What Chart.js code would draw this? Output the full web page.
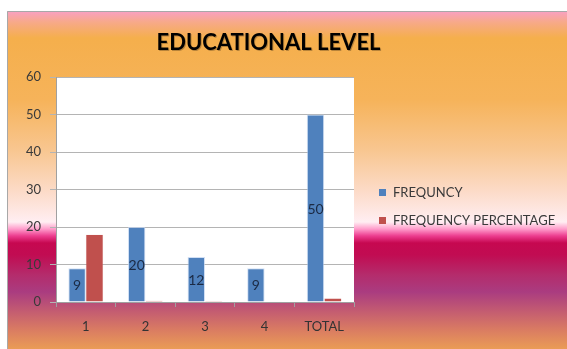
<!DOCTYPE html>
<html>
<head>
<meta charset="utf-8">
<script src="https://cdn.jsdelivr.net/npm/chart.js@4"></script>
<style>
html,body{margin:0;padding:0;background:#fff;}
#wrap{width:567px;height:349px;position:relative;}
</style>
</head>
<body>
<div id="wrap"><canvas id="c" width="567" height="349"></canvas></div>
<script>
const titleText = "EDUCATIONAL LEVEL";
const categories = ["1", "2", "3", "4", "TOTAL"];
const frequency = [9, 20, 12, 9, 50];
const frequencyPercentage = [18, 0.4, 0.24, 0.18, 1];
const seriesNames = ["FREQUNCY", "FREQUENCY PERCENTAGE"];
const yTicks = [0, 10, 20, 30, 40, 50, 60];

const FONT = "Lato, 'Open Sans', sans-serif";

const bgPlugin = {
  id: 'bg',
  beforeDraw(chart) {
    const ctx = chart.ctx;
    const W = chart.width, H = chart.height;
    ctx.save();
    ctx.fillStyle = '#ffffff';
    ctx.fillRect(0, 0, W, H);
    const x0 = 7, y0 = 11;
    const g = ctx.createLinearGradient(0, y0, 0, H);
    const stops = [
      [11, '#F9A0C4'], [22, '#F7A98A'], [38, '#F5AF4C'], [100, '#F6B35A'],
      [150, '#F8C690'], [190, '#FCDAC6'], [222, '#FFEEF2'], [229, '#FF9CCB'],
      [236, '#EC3C8E'], [243, '#C60850'], [255, '#C10C52'], [275, '#B42C6C'],
      [292, '#AA3C80'], [310, '#C25A72'], [330, '#DA7C62'], [349, '#EA9C56']
    ];
    stops.forEach(s => g.addColorStop((s[0] - y0) / (H - y0), s[1]));
    ctx.fillStyle = g;
    ctx.fillRect(x0, y0, W - x0, H - y0);
    ctx.strokeStyle = '#A8A8A8';
    ctx.lineWidth = 1;
    ctx.beginPath();
    ctx.moveTo(x0 + 0.5, H);
    ctx.lineTo(x0 + 0.5, y0 + 0.5);
    ctx.lineTo(W, y0 + 0.5);
    ctx.stroke();
    const a = chart.chartArea;
    ctx.fillStyle = '#ffffff';
    ctx.fillRect(a.left, a.top, a.right - a.left, a.bottom - a.top);
    ctx.restore();
  },
  afterDraw(chart) {
    const ctx = chart.ctx;
    ctx.save();
    ctx.font = "bold 22px " + FONT;
    ctx.fillStyle = 'rgba(0,0,0,0.25)';
    ctx.textAlign = 'center';
    ctx.textBaseline = 'middle';
    ctx.fillText(titleText, 269.5, 43.5);
    ctx.fillStyle = '#000000';
    ctx.fillText(titleText, 268.5, 42.5);
    const meta = chart.getDatasetMeta(0);
    ctx.font = "14px " + FONT;
    ctx.fillStyle = '#1B2A44';
    meta.data.forEach((bar, i) => {
      const y = (bar.y + bar.base) / 2;
      ctx.fillText(String(chart.data.datasets[0].data[i]), bar.x, y + 1);
    });
    ctx.font = "13px " + FONT;
    ctx.textAlign = 'left';
    chart.data.datasets.forEach((ds, i) => {
      const y = 192.5 + i * 28;
      ctx.fillStyle = ds.backgroundColor;
      ctx.fillRect(379, y - 3.5, 7, 7);
      ctx.fillStyle = '#3A3A3A';
      ctx.fillText(ds.label, 393, y + 0.5);
    });
    ctx.restore();
  }
};

new Chart(document.getElementById('c'), {
  type: 'bar',
  data: {
    labels: categories,
    datasets: [
      { label: seriesNames[0], data: frequency, backgroundColor: '#4F81BD',
        borderColor: 'rgba(190,210,240,0.7)', borderWidth: 1 },
      { label: seriesNames[1], data: frequencyPercentage, backgroundColor: '#C0504D',
        borderColor: 'rgba(230,170,170,0.4)', borderWidth: 0.5 }
    ]
  },
  options: {
    responsive: false,
    animation: false,
    devicePixelRatio: 1,
    layout: { padding: { left: 0, top: 77, right: 213, bottom: 0 } },
    datasets: { bar: { categoryPercentage: 0.584, barPercentage: 1 } },
    plugins: { legend: { display: false }, title: { display: false }, tooltip: { enabled: false } },
    scales: {
      x: {
        afterFit(s) { s.height = 47; },
        grid: { display: true, drawOnChartArea: false, drawTicks: true, tickLength: 5,
                color: '#A0A0A0', offset: true },
        border: { display: true, color: '#A0A0A0' },
        ticks: { color: '#333333', font: { family: FONT, size: 13 }, padding: 12 }
      },
      y: {
        min: 0, max: 60,
        afterFit(s) { s.width = 56; },
        afterBuildTicks(s) { s.ticks = yTicks.map(v => ({ value: v })); },
        grid: { color: '#B4B4B4', drawTicks: true, tickLength: 6 },
        border: { display: true, color: '#A0A0A0' },
        ticks: { color: '#3A3A3A', font: { family: FONT, size: 13 }, padding: 9 }
      }
    }
  },
  plugins: [bgPlugin]
});
</script>
</body>
</html>
